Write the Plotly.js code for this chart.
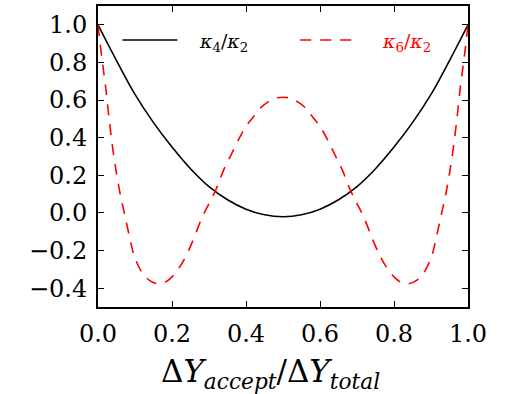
<!DOCTYPE html>
<html>
<head>
<meta charset="utf-8">
<script src="https://cdn.plot.ly/plotly-3.0.1.min.js"></script>
<style>html,body{margin:0;padding:0;background:#fff;}#chart{width:505px;height:394px;}</style>
</head>
<body>
<div id="chart"></div>
<script>
// kappa4/kappa2
var xK4 = [0.00,0.05,0.10,0.15,0.20,0.25,0.30,0.35,0.40,0.45,0.50,0.55,0.60,0.65,0.70,0.75,0.80,0.85,0.90,0.95,1.00];
var yK4 = [1.00,0.81,0.63,0.48,0.35,0.235,0.14,0.07,0.02,-0.01,-0.02,-0.01,0.02,0.07,0.14,0.235,0.35,0.48,0.63,0.81,1.00];
// kappa6/kappa2
var xK6 = [0.00,0.01,0.02,0.03,0.04,0.05,0.06,0.07,0.08,0.09,0.10,0.12,0.14,0.16,0.18,0.20,0.22,0.24,0.26,0.28,0.30,0.32,0.34,0.36,0.38,0.40,0.42,0.44,0.46,0.48,0.50,
           0.52,0.54,0.56,0.58,0.60,0.62,0.64,0.66,0.68,0.70,0.72,0.74,0.76,0.78,0.80,0.82,0.84,0.86,0.88,0.90,0.91,0.92,0.93,0.94,0.95,0.96,0.97,0.98,0.99,1.00];
var yK6 = [1.00,0.83,0.68,0.50,0.34,0.21,0.10,0.01,-0.08,-0.17,-0.24,-0.32,-0.36,-0.376,-0.37,-0.34,-0.29,-0.22,-0.13,-0.03,0.05,0.13,0.23,0.31,0.39,0.46,0.51,0.56,0.59,0.61,0.615,
           0.61,0.59,0.56,0.51,0.46,0.39,0.31,0.23,0.13,0.05,-0.03,-0.13,-0.22,-0.29,-0.34,-0.37,-0.376,-0.36,-0.32,-0.24,-0.17,-0.08,0.01,0.10,0.21,0.34,0.50,0.68,0.83,1.00];
var yTicks = [-0.4,-0.2,0.0,0.2,0.4,0.6,0.8,1.0];
var xTicks = [0.0,0.2,0.4,0.6,0.8,1.0];
var nameK4 = '<i>κ</i><sub>4</sub>/<i>κ</i><sub>2</sub>';
var nameK6 = '<i>κ</i><sub>6</sub>/<i>κ</i><sub>2</sub>';
var xTitle = 'Δ<i>Y</i><sub><i>accept</i></sub>/Δ<i>Y</i><sub><i>total</i></sub>';

var dashStyle = '11px,9px';
var traces = [
  {x:xK4, y:yK4, type:'scatter', mode:'lines', name:nameK4, showlegend:false, line:{color:'black', width:1.6, shape:'spline'}},
  {x:xK6, y:yK6, type:'scatter', mode:'lines', name:nameK6, showlegend:false, line:{color:'red', width:1.6, dash:dashStyle, shape:'spline'}}
];
var axisCommon = {
  showgrid:false, zeroline:false, showline:true, linecolor:'black', linewidth:2,
  mirror:'allticks', ticks:'inside', ticklen:6, tickwidth:1, tickcolor:'black',
  tickfont:{family:'DejaVu Serif', size:24, color:'black'}
};
var legY = 0.887;
var layout = {
  width:505, height:394,
  margin:{l:97.5, r:37, t:6, b:87},
  paper_bgcolor:'white', plot_bgcolor:'white',
  showlegend:false,
  shapes:[
    {type:'line', xref:'paper', yref:'paper', x0:0.066, x1:0.2146, y0:legY, y1:legY, line:{color:'black', width:1.6}},
    {type:'line', xref:'paper', yref:'paper', x0:0.5466, x1:0.695, y0:legY, y1:legY, line:{color:'red', width:1.6, dash:dashStyle}}
  ],
  annotations:[
    {xref:'paper', yref:'paper', x:0.2686, y:legY-0.008, xanchor:'left', yanchor:'middle', showarrow:false, text:traces[0].name,
     font:{family:'DejaVu Serif', size:19, color:'black'}},
    {xref:'paper', yref:'paper', x:0.7625, y:legY-0.008, xanchor:'left', yanchor:'middle', showarrow:false, text:traces[1].name,
     font:{family:'DejaVu Serif', size:19, color:'red'}},
    {xref:'paper', yref:'paper', x:0.4656, y:-0.2202, xanchor:'center', yanchor:'middle', showarrow:false, text:xTitle,
     font:{family:'DejaVu Serif', size:31, color:'black'}}
  ],
  xaxis:Object.assign({}, axisCommon, {range:[0,1], tickvals:xTicks, tickformat:'.1f', ticklabelstandoff:4}),
  yaxis:Object.assign({}, axisCommon, {range:[-0.5,1.1], tickvals:yTicks, tickformat:'.1f', ticklabelstandoff:4})
};
Plotly.newPlot('chart', traces, layout, {displayModeBar:false, staticPlot:true});
</script>
</body>
</html>
